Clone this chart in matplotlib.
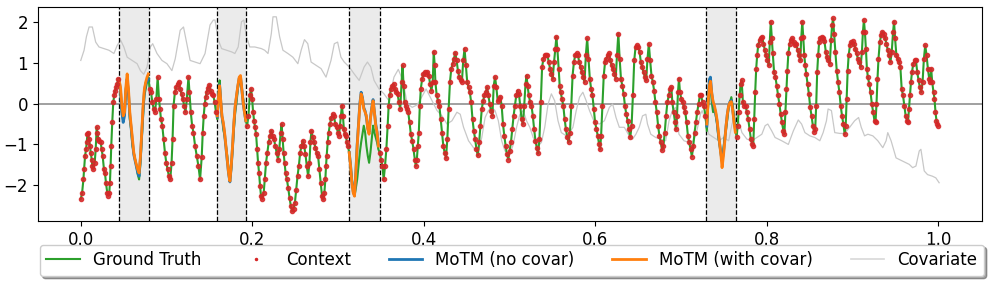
import numpy as np
import matplotlib
matplotlib.use("Agg")
import matplotlib.pyplot as plt

T_LEN = 2588.0  # total number of time steps -> normalised time axis 0..1

# Ground truth series: (time step, value)
ground_truth = [
    (0,-2.34),(4,-2.19),(8,-1.86),(10,-1.61),(13,-1.28),(16,-1.12),(18,-0.95),(20,-0.75),(22,-0.71),
    (25,-0.87),(28,-1.04),(30,-1.20),(33,-1.37),(35,-1.53),(38,-1.61),(42,-1.45),(45,-1.12),(48,-0.58),
    (50,-0.71),(53,-0.87),(56,-0.91),(60,-0.95),(63,-1.12),(66,-1.28),(70,-1.61),(73,-1.70),(76,-1.94),
    (80,-2.19),(83,-2.26),(86,-2.19),(88,-1.94),(90,-1.53),(92,-1.04),(95,-0.46),(98,0.03),(101,0.20),
    (104,0.32),(107,0.40),(110,0.49),(113,0.61),
    (116,0.57),(120,0.20),(124,-0.21),(128,-0.42),(132,-0.21),(136,0.36),(140,0.65),(144,0.28),(148,-0.38),
    (152,-0.63),(156,-1.04),(160,-1.20),(164,-1.37),(168,-1.53),(172,-1.74),(176,-1.86),(180,-1.45),
    (184,-0.87),(188,-0.30),(192,0.20),(196,0.36),(200,0.53),(204,0.65),
    (208,0.36),(212,0.28),(216,0.03),(220,-0.13),(224,-0.21),(228,0.12),(232,0.65),(236,0.12),(239,-0.13),
    (242,-0.38),(246,-0.54),(250,-0.87),(254,-1.20),(258,-1.45),(262,-1.61),(266,-1.78),(270,-1.86),
    (274,-1.45),(277,-0.87),(280,-0.05),(284,0.28),(288,0.40),(292,0.49),(296,0.53),(300,0.36),(304,0.24),
    (308,0.12),(312,-0.05),(316,-0.21),(320,0.12),(325,0.65),(328,0.28),(332,-0.21),(336,-0.54),(340,-0.71),
    (345,-1.04),(350,-1.28),(355,-1.53),(360,-1.86),
    (365,-1.30),(368,-0.71),(371,-0.30),(374,-0.01),(377,0.16),(380,0.28),(384,0.38),(388,0.46),(392,0.32),
    (396,0.24),(400,0.20),(404,0.03),(408,-0.21),
    (412,-0.38),(416,0.28),(419,0.57),(422,0.12),(426,-0.30),(430,-0.63),(434,-0.79),(438,-1.04),(442,-1.28),
    (446,-1.61),(450,-1.90),(454,-1.61),(458,-1.12),(462,-0.63),(466,-0.21),(470,0.03),(474,0.36),(478,0.57),
    (482,0.65),(486,0.36),(490,0.12),(494,-0.13),(498,-0.42),
    (502,-0.54),(506,-0.30),(510,0.20),(514,0.36),(517,0.12),(520,-0.21),(523,-0.42),(526,-0.58),(529,-0.75),
    (532,-1.12),(535,-1.45),(538,-1.70),(541,-2.02),(544,-2.27),(548,-2.34),(552,-2.19),(555,-1.86),
    (559,-1.45),(563,-1.20),(567,-0.95),(571,-0.79),(575,-0.67),(579,-0.79),(583,-0.87),(587,-1.04),
    (591,-1.20),(595,-1.37),(599,-1.12),(603,-0.71),(606,-0.50),(609,-0.87),(612,-1.20),(615,-1.45),
    (618,-1.70),(622,-1.86),(626,-2.07),(630,-2.31),(634,-2.52),(638,-2.64),(642,-2.58),(646,-2.44),
    (650,-2.11),(654,-1.78),(658,-1.53),(662,-1.20),(666,-1.04),(670,-0.91),(674,-1.04),(678,-1.24),
    (682,-1.53),(686,-1.78),(690,-1.45),(693,-0.95),(696,-0.67),(700,-0.83),(704,-0.95),(708,-1.08),
    (712,-1.20),(716,-1.28),(720,-1.61),(724,-1.94),(728,-2.27),
    (732,-2.35),(735,-2.19),(738,-1.86),(740,-1.53),(742,-1.28),(745,-0.95),(748,-0.71),(752,-0.50),
    (756,-0.34),(760,-0.26),(764,-0.30),(768,-0.50),(772,-0.58),(776,-0.71),(779,-0.79),(782,-0.54),
    (785,-0.30),(788,-0.05),(791,-0.30),(794,-0.63),(797,-0.75),(800,-0.79),(803,-0.95),(806,-1.04),
    (810,-1.20),(814,-1.53),(818,-1.86),(822,-2.11),(826,-2.26),(830,-2.07),(834,-1.86),(838,-1.53),
    (842,-1.20),(846,-0.95),(850,-0.75),(854,-0.54),(858,-0.71),(862,-1.04),(866,-1.28),(870,-1.45),
    (874,-1.20),(878,-0.87),(882,-0.54),(886,-0.71),(890,-0.83),(894,-0.95),(898,-1.12),
    (902,-1.20),(906,-1.37),(910,-1.53),(914,-1.86),(918,-1.53),(922,-1.12),(926,-0.54),(929,-0.05),
    (932,0.20),(936,0.36),(940,0.44),(944,0.49),(948,0.36),(952,0.28),(956,0.24),(960,0.03),(964,-0.13),
    (968,0.53),(971,0.94),(974,0.44),(977,0.03),(980,-0.05),(984,-0.13),(988,-0.21),(992,-0.46),
    (996,-0.75),(1000,-0.91),(1004,-1.12),(1008,-1.37),(1011,-1.53),(1014,-1.37),(1017,-1.04),
    (1020,-0.71),(1023,-0.05),(1026,0.36),(1030,0.61),(1034,0.73),(1038,0.77),(1042,0.73),(1046,0.77),
    (1050,0.69),(1054,0.49),(1058,0.32),(1062,0.53),(1065,1.27),(1068,0.94),
    (1070,0.53),(1074,0.20),(1078,0.07),(1082,-0.05),(1086,-0.38),(1090,-0.71),(1094,-1.04),(1098,-1.20),
    (1102,-1.33),(1106,-0.87),(1110,-0.13),(1114,0.53),(1118,0.86),(1122,0.98),(1126,1.10),(1130,1.25),
    (1134,1.06),(1138,0.81),(1142,0.65),(1146,0.57),(1150,0.53),(1154,1.06),(1158,1.35),(1162,0.94),
    (1166,0.53),(1170,0.40),(1174,0.28),(1178,0.03),(1182,-0.38),(1186,-0.67),(1190,-0.87),(1194,-1.12),
    (1198,-1.27),(1202,-0.95),(1206,-0.54),(1210,-0.13),(1214,0.07),(1218,0.20),(1222,0.28),(1226,0.40),
    (1230,0.20),(1234,-0.01),(1238,-0.17),(1242,-0.30),(1246,0.44),(1250,0.65),(1254,0.40),(1258,0.07),
    (1262,0.12),(1266,0.16),(1270,-0.05),(1274,-0.50),(1278,-0.79),(1282,-1.04),(1286,-1.24),(1290,-1.37),
    (1294,-1.16),(1298,-0.95),(1302,-0.63),(1306,-0.30),(1310,-0.05),(1314,0.20),(1318,0.32),(1322,0.24),
    (1326,-0.05),(1330,-0.38),(1334,-0.50),(1338,-0.05),(1342,0.49),(1345,0.69),(1348,0.44),(1352,0.20),
    (1356,0.03),(1360,-0.05),(1364,-0.30),(1368,-0.63),(1372,-0.91),(1376,-1.08),(1380,-1.22),(1384,-0.87),
    (1388,0.03),(1392,0.90),(1396,1.10),(1400,1.19),(1404,1.20),(1408,1.19),(1412,1.02),(1416,0.86),
    (1420,0.73),(1424,0.61),(1428,1.02),(1432,1.35),(1435,1.64),(1438,1.35),(1442,0.86),
    (1445,0.44),(1448,0.28),(1452,0.12),(1456,-0.05),(1460,-0.38),(1464,-0.63),(1468,-0.83),(1472,-0.94),
    (1476,-0.71),(1480,-0.05),(1484,0.69),(1488,1.02),(1492,1.19),(1496,1.23),(1500,1.19),(1504,1.02),
    (1508,0.90),(1512,0.77),(1516,0.65),(1520,0.53),(1524,1.19),(1528,1.60),(1532,1.10),(1536,0.61),
    (1540,0.36),(1544,0.20),(1548,-0.13),(1552,-0.46),(1556,-0.63),(1560,-0.79),(1564,-1.00),(1567,-1.12),
    (1570,-0.79),(1574,-0.05),(1578,0.69),(1582,1.02),(1586,1.10),(1590,1.19),(1594,1.23),(1598,1.06),
    (1602,0.94),(1606,0.86),(1610,0.73),(1614,0.61),(1618,1.19),(1622,1.72),(1626,1.10),(1630,0.61),
    (1634,0.44),(1638,0.24),(1642,-0.05),(1646,-0.26),(1650,-0.42),(1654,-0.63),(1658,-0.83),(1662,-0.54),
    (1666,0.20),(1670,1.06),(1674,1.39),(1678,1.43),(1682,1.39),(1686,1.27),(1690,1.02),(1694,0.90),
    (1698,0.77),(1702,0.65),(1706,0.57),(1710,1.10),(1714,1.47),(1718,1.06),(1722,0.69),(1726,0.53),
    (1730,0.32),(1734,0.03),(1738,-0.21),(1742,-0.54),(1746,-0.79),(1750,-0.95),(1754,-1.14),(1758,-1.04),
    (1762,-0.71),(1766,-0.30),(1770,0.03),(1774,0.20),(1778,0.36),(1782,0.40),
    (1785,0.03),(1789,-0.21),(1793,-0.46),(1796,-0.63),(1799,-0.30),(1802,0.28),(1805,0.61),(1808,0.28),
    (1812,0.12),(1816,0.03),(1820,-0.09),(1824,-0.21),(1828,-0.46),(1832,-0.79),(1836,-0.95),(1840,-1.12),
    (1844,-1.30),(1848,-1.04),(1852,-0.71),(1856,-0.46),(1860,-0.21),(1864,-0.01),(1868,0.20),(1872,0.20),
    (1876,0.03),(1880,-0.05),(1885,-0.30),
    (1889,-0.67),(1893,-0.05),(1897,0.36),(1900,0.49),(1904,0.03),(1908,-0.21),(1912,-0.09),(1916,-0.30),
    (1920,-0.50),(1924,-0.83),(1928,-1.04),(1932,-1.24),(1935,-1.37),(1939,-1.12),(1943,-0.83),(1947,-0.63),
    (1951,-0.38),(1955,-0.09),(1959,0.03),(1963,0.16),(1967,-0.05),(1971,-0.30),(1975,-0.58),
    (1979,-0.83),(1982,-0.54),(1985,-0.21),(1988,0.20),(1991,0.49),(1994,0.57),(1998,0.03),(2002,-0.05),
    (2006,-0.05),(2010,-0.21),(2014,-0.38),(2018,-0.63),(2022,-0.87),(2026,-1.00),(2029,-1.04),(2032,-0.38),
    (2035,0.28),(2038,0.86),(2041,1.19),(2044,1.43),(2048,1.56),(2052,1.61),(2056,1.64),(2060,1.47),
    (2064,1.31),(2068,1.19),(2072,1.06),(2076,0.94),(2079,1.52),(2082,2.01),(2085,1.60),(2088,1.23),
    (2092,0.77),(2096,0.65),(2100,0.44),(2104,0.20),(2108,-0.01),(2112,-0.26),(2116,-0.46),(2120,-0.67),
    (2123,-0.75),(2126,-0.21),(2129,0.36),(2132,0.81),(2135,1.23),(2139,1.47),(2143,1.56),(2147,1.60),
    (2151,1.51),(2155,1.43),
    (2159,1.47),(2163,1.31),(2167,1.19),(2171,1.06),(2174,1.60),(2177,2.01),(2180,1.64),(2183,1.19),
    (2186,0.94),(2189,0.73),(2193,0.49),(2197,0.24),(2201,-0.09),(2205,-0.30),(2209,-0.54),(2213,-0.69),
    (2216,-0.63),(2219,-0.05),(2222,0.77),(2225,1.19),(2228,1.51),(2232,1.61),(2236,1.64),(2240,1.60),
    (2244,1.53),(2248,1.27),(2252,1.14),(2256,1.06),(2260,0.98),(2264,1.56),(2267,1.93),(2270,2.09),
    (2273,1.72),(2277,1.27),(2281,0.81),(2285,0.53),(2289,0.28),(2293,-0.05),(2297,-0.30),(2301,-0.50),
    (2305,-0.75),(2308,-0.54),(2311,0.12),(2314,0.81),(2317,1.19),(2321,1.43),(2325,1.51),(2329,1.53),
    (2333,1.47),(2337,1.35),(2341,1.23),(2345,1.10),(2349,1.02),(2353,0.90),(2357,1.27),(2360,1.76),
    (2363,2.05),(2366,1.76),(2369,1.35),(2372,0.86),(2375,0.65),(2379,0.49),(2383,0.28),(2387,-0.01),
    (2391,-0.21),(2395,-0.42),(2398,-0.46),(2401,-0.01),(2404,0.61),(2407,1.10),(2411,1.51),(2415,1.68),
    (2419,1.76),(2423,1.70),(2427,1.60),(2431,1.47),(2435,1.31),(2439,1.19),(2443,1.02),(2447,1.27),
    (2451,1.76),(2454,2.01),(2457,1.60),(2461,1.19),(2465,1.10),(2469,1.02),(2473,0.90),(2477,0.36),
    (2481,0.20),(2485,-0.05),(2489,-0.30),(2493,-0.42),(2496,-0.46),(2499,-0.13),(2502,0.20),(2505,0.53),
    (2508,0.77),(2512,0.98),(2516,1.06),(2520,1.06),(2524,0.77),(2528,0.57),(2532,0.40),(2536,0.28),
    (2540,0.53),(2544,1.10),(2548,1.43),(2552,1.19),(2556,0.86),(2560,0.61),(2563,0.53),(2566,0.86),
    (2569,0.53),(2573,0.28),(2576,0.12),(2579,-0.21),(2582,-0.42),(2585,-0.50),(2588,-0.54),
]

# Covariate series: (time step, value)
covariate = [
    (0,1.06),(10,1.31),(17,1.64),(25,1.88),(35,1.88),(45,1.51),(55,1.39),(70,1.35),(85,1.31),(100,1.23),
    (110,1.43),(120,1.56),(130,1.39),(140,1.14),(155,1.06),(170,0.98),(180,0.81),(190,0.72),(200,0.90),
    (210,1.39),(217,1.47),(230,1.23),(245,1.06),(260,0.98),(275,0.81),(285,1.10),(300,1.80),(310,1.88),
    (320,1.47),(330,1.06),(345,1.02),(360,0.98),(375,1.23),(390,1.93),(400,2.05),(405,2.05),(415,1.56),
    (425,1.35),(440,1.31),(455,1.27),(465,1.23),(475,1.39),(485,2.01),(492,2.05),(500,1.64),(510,1.39),
    (525,1.39),(545,1.35),(555,1.31),(565,1.23),(575,1.72),(580,2.13),(590,2.13),(600,1.64),(610,1.31),
    (625,1.23),(640,1.14),(655,0.98),(665,1.31),(675,1.57),(685,1.47),(695,1.02),(710,0.94),(725,0.86),
    (740,0.65),(755,1.06),(765,1.47),(775,1.51),(785,1.14),(795,1.02),(810,0.90),(825,0.73),(840,0.57),
    (855,0.90),(865,1.02),(875,0.90),(885,0.57),(900,0.36),(915,0.24),(930,0.07),(945,0.65),(958,0.84),
    (972,0.57),(985,0.00),(1000,-0.09),(1015,-0.03),(1030,0.18),(1042,0.36),(1060,0.07),(1075,-0.17),
    (1090,-0.30),(1105,-0.50),(1120,-0.42),(1135,-0.21),(1145,-0.26),(1155,-0.58),(1170,-0.91),(1185,-1.08),
    (1200,-1.16),(1210,-0.83),(1220,-0.34),(1230,-0.17),(1240,-0.09),(1250,-0.17),(1260,-0.42),(1270,-0.91),
    (1280,-1.16),(1295,-1.24),(1305,-1.00),(1315,-0.58),(1325,-0.26),(1335,-0.17),(1345,-0.42),(1355,-0.58),
    (1365,-0.83),(1380,-1.04),(1390,-0.95),(1400,-0.58),(1410,-0.01),(1420,0.24),(1430,0.07),(1440,-0.42),
    (1450,-0.71),(1465,-0.79),(1475,-0.71),(1485,-0.58),(1495,-0.17),(1505,0.16),(1515,0.28),(1525,0.07),
    (1535,-0.17),(1550,-0.46),(1565,-0.50),(1580,-0.42),(1595,-0.09),(1605,-0.01),(1615,-0.34),(1625,-0.58),
    (1640,-0.58),(1655,-0.79),(1665,-0.87),(1675,-0.75),(1685,-0.58),(1695,-0.30),(1705,-0.26),(1710,-0.50),
    (1720,-0.75),(1735,-0.83),(1750,-0.87),(1765,-0.91),(1775,-0.42),(1785,-0.17),(1795,-0.09),(1805,-0.75),
    (1820,-0.91),(1835,-0.95),(1850,-0.91),(1860,-0.63),(1870,-0.26),(1875,-0.17),(1885,-0.42),(1895,-0.75),
    (1910,-0.83),(1925,-0.91),(1940,-0.83),(1955,-0.91),(1965,-0.50),(1975,-0.26),(1985,-0.42),(1995,-0.71),
    (2010,-0.87),(2025,-0.91),(2040,-0.83),(2055,-0.75),(2065,-0.54),(2073,-0.50),(2085,-0.67),(2095,-0.83),
    (2115,-0.91),(2135,-1.00),(2150,-0.67),(2165,-0.40),(2175,-0.50),(2185,-0.71),(2200,-0.79),(2215,-0.83),
    (2230,-0.91),(2240,-0.71),(2250,-0.42),(2255,-0.13),(2265,-0.17),(2275,-0.71),(2290,-0.73),(2305,-0.73),
    (2320,-0.58),(2335,-0.42),(2347,-0.34),(2355,-0.58),(2365,-0.79),(2375,-0.75),(2390,-0.79),(2405,-0.91),
    (2420,-1.08),(2430,-0.91),(2435,-0.71),(2445,-0.91),(2460,-1.33),(2475,-1.39),(2490,-1.45),(2500,-1.49),
    (2510,-1.57),(2520,-1.53),(2530,-1.16),(2535,-1.12),(2545,-1.65),(2555,-1.74),(2570,-1.78),(2580,-1.82),
    (2590,-1.94),
]

# Forecast windows (start, end) in time steps
windows = [(116, 206), (410, 500), (810, 902), (1887, 1977)]

# MoTM forecasts inside each window (one value per ground-truth step in the window)
motm_no_covar = [
    [0.57,0.30,-0.20,-0.46,-0.30,0.30,0.60,0.25,-0.30,-0.60,-0.95,-1.25,-1.40,-1.55,-1.70,-1.78,-1.35,-0.75,-0.15,0.30,0.50,0.55,0.60],
    [-0.32,0.22,0.46,0.10,-0.32,-0.50,-0.75,-1.08,-1.40,-1.72,-1.92,-1.55,-1.06,-0.50,-0.08,0.18,0.42,0.62,0.66,0.34,0.02,-0.22,-0.42],
    [-1.20,-1.50,-1.90,-2.15,-2.25,-1.68,-1.00,-0.50,0.00,0.28,0.15,-0.10,-0.18,-0.35,-0.60,-0.70,-0.35,-0.10,0.10,-0.20,-0.50,-0.70,-1.00],
    [-0.55,0.15,0.60,0.65,0.25,0.00,-0.10,-0.25,-0.45,-0.75,-1.00,-1.25,-1.40,-1.20,-0.90,-0.55,-0.25,-0.05,0.05,0.08,-0.15,-0.40,-0.62],
]
motm_with_covar = [
    [0.57,0.40,-0.05,-0.30,-0.21,0.40,0.73,0.36,-0.21,-0.54,-0.87,-1.20,-1.37,-1.50,-1.62,-1.70,-1.30,-0.70,-0.05,0.36,0.53,0.65,0.73],
    [-0.30,0.20,0.44,0.12,-0.30,-0.46,-0.71,-1.04,-1.37,-1.70,-1.90,-1.53,-1.04,-0.46,-0.05,0.20,0.44,0.65,0.69,0.36,0.03,-0.21,-0.42],
    [-1.20,-1.53,-1.94,-2.19,-2.27,-1.70,-1.04,-0.54,-0.05,0.24,0.12,-0.13,-0.21,-0.30,-0.63,-0.75,-0.38,-0.13,0.07,-0.21,-0.54,-0.71,-1.04],
    [-0.50,0.05,0.45,0.55,0.25,0.05,-0.05,-0.20,-0.40,-0.70,-1.00,-1.30,-1.57,-1.30,-0.95,-0.55,-0.25,-0.05,0.03,0.05,-0.15,-0.45,-0.70],
]

legend_labels = ["Ground Truth", "Context", "MoTM (no covar)", "MoTM (with covar)", "Covariate"]

# ---------------------------------------------------------------
gt_t = np.array([p[0] for p in ground_truth], dtype=float)
gt_y = np.array([p[1] for p in ground_truth], dtype=float)
cov_t = np.array([p[0] for p in covariate], dtype=float)
cov_y = np.array([p[1] for p in covariate], dtype=float)
gt_x = gt_t / T_LEN
cov_x = cov_t / T_LEN

in_window = np.zeros(len(gt_t), dtype=bool)
for a, b in windows:
    in_window |= (gt_t >= a) & (gt_t < b)

fig = plt.figure(figsize=(9.96, 2.83), dpi=100)
ax = fig.add_axes([0.038, 0.219, 0.948, 0.756])

ax.axhline(0, color="#999999", lw=1.3, zorder=1)
ax.plot(cov_x, cov_y, color="#c8c8c8", lw=0.9, zorder=2, label=legend_labels[4])

for a, b in windows:
    ax.axvspan(a / T_LEN, b / T_LEN, color="#ebebeb", zorder=0)
    ax.axvline(a / T_LEN, color="black", ls="--", lw=0.9, zorder=3)
    ax.axvline(b / T_LEN, color="black", ls="--", lw=0.9, zorder=3)

gt_line, = ax.plot(gt_x, gt_y, color="#2ca02c", lw=1.5, zorder=4, label=legend_labels[0])
ctx, = ax.plot(gt_x[~in_window], gt_y[~in_window], ls="none", marker="o", ms=3.0,
               color="#d62728", alpha=0.85, zorder=7, label=legend_labels[1])

for i, (a, b) in enumerate(windows):
    m = (gt_t >= a) & (gt_t < b)
    xw = gt_x[m]
    bl, = ax.plot(xw, motm_no_covar[i], color="#1f77b4", lw=2.0, zorder=5)
    ol, = ax.plot(xw, motm_with_covar[i], color="#ff7f0e", lw=2.0, zorder=6)

handles = [
    plt.Line2D([], [], color="#2ca02c", lw=1.5),
    plt.Line2D([], [], ls="none", marker=".", ms=3, color="#d62728"),
    plt.Line2D([], [], color="#1f77b4", lw=2.0),
    plt.Line2D([], [], color="#ff7f0e", lw=2.0),
    plt.Line2D([], [], color="#d8d8d8", lw=1.2),
]
ax.legend(handles, legend_labels, loc="upper left", bbox_to_anchor=(0.002, -0.21, 1.0, 0.1),
          mode="expand", ncol=5, fancybox=True, shadow=True, fontsize=12, borderaxespad=0)

ax.set_xticks([0.0, 0.2, 0.4, 0.6, 0.8, 1.0])
ax.set_yticks([-2, -1, 0, 1, 2])
ax.tick_params(labelsize=12)

fig.savefig("out.png", dpi=100)
